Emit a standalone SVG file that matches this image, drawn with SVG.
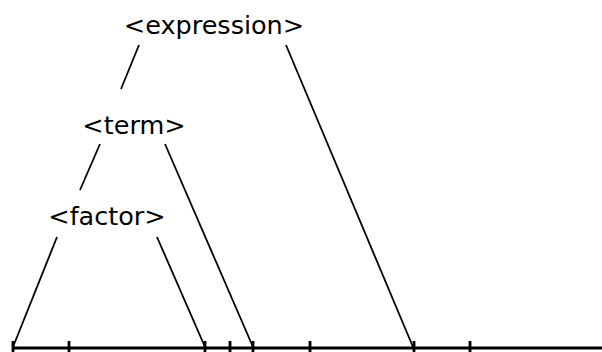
<svg xmlns="http://www.w3.org/2000/svg" width="602" height="352" viewBox="0 0 602 352">
<style>
text{font-family:"DejaVu Sans","Noto Sans",sans-serif;font-size:25.5px;fill:#000;text-anchor:middle}
.c line{stroke:#000;stroke-width:1.8}
.axis line{stroke:#000;stroke-width:2.8}
</style>
<rect width="602" height="352" fill="#fff"/>
<g id="expression"><text x="214" y="34">&lt;expression&gt;</text></g>
<g id="term"><text x="134" y="134">&lt;term&gt;</text></g>
<g id="factor"><text x="107" y="225">&lt;factor&gt;</text></g>
<g class="c" id="connectors">
<line x1="139" y1="45" x2="121" y2="89"/>
<line x1="286" y1="45" x2="413" y2="347"/>
<line x1="100" y1="144" x2="80" y2="190"/>
<line x1="165" y1="144" x2="253" y2="347"/>
<line x1="57" y1="237" x2="13" y2="347"/>
<line x1="157" y1="237" x2="205" y2="347"/>
</g>
<g class="axis" id="axis">
<line x1="12" y1="348" x2="602" y2="348"/>
<line x1="13" y1="341" x2="13" y2="352"/>
<line x1="69" y1="341" x2="69" y2="352"/>
<line x1="205" y1="341" x2="205" y2="352"/>
<line x1="230" y1="341" x2="230" y2="352"/>
<line x1="253" y1="341" x2="253" y2="352"/>
<line x1="310" y1="341" x2="310" y2="352"/>
<line x1="414" y1="341" x2="414" y2="352"/>
<line x1="470" y1="341" x2="470" y2="352"/>
</g>
</svg>
